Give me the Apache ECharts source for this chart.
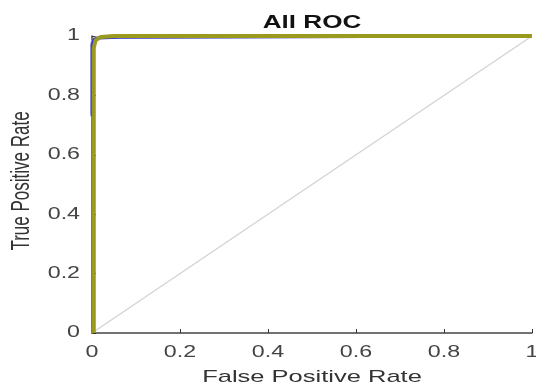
<!DOCTYPE html>
<html>
<head>
<meta charset="utf-8">
<script src="https://cdn.jsdelivr.net/npm/echarts@6/dist/echarts.min.js"></script>
<style>
  html, body { margin: 0; padding: 0; background: #fff; }
  #main { width: 536px; height: 385px; }
</style>
</head>
<body>
<div id="main"></div>
<script>
var chartDom = document.getElementById('main');
var myChart = echarts.init(chartDom);
var option;

// tick values and their labels
var xTicks = [0, 0.2, 0.4, 0.6, 0.8, 1];
var xTickLabels = ['0', '0.2', '0.4', '0.6', '0.8', '1'];
var yTicks = [0, 0.2, 0.4, 0.6, 0.8, 1];
var yTickLabels = ['0', '0.2', '0.4', '0.6', '0.8', '1'];

// curves (fpr, tpr)
var chanceLine = [[0, 0], [1, 1]];
var greyRoc = [[0, 0.74], [0, 0.98], [0.006, 0.993], [0.05, 0.996], [0.27, 0.997], [1, 1]];
var blueRoc = [[0, 0.73], [0, 0.97], [0.004, 0.988], [0.012, 0.993], [0.03, 0.994], [0.06, 0.996], [1, 1]];
var oliveRoc = [[0.004, 0], [0.004, 0.96], [0.008, 0.985], [0.02, 0.997], [0.05, 1], [1, 1]];

var FONT = 'Liberation Sans, Arial, sans-serif';
// the reference text looks stretched sideways
var STRETCH = 1.45;

option = {
  animation: false,
  grid: { left: 92, right: 4, top: 36, bottom: 52 },
  xAxis: {
    type: 'value',
    min: 0,
    max: 1,
    interval: 0.2,
    axisLine: { lineStyle: { color: '#444', width: 1.5 } },
    axisTick: { inside: true, length: 4, lineStyle: { color: '#333' } },
    axisLabel: { show: false },
    splitLine: { show: false }
  },
  yAxis: {
    type: 'value',
    min: 0,
    max: 1,
    interval: 0.2,
    axisLine: { show: true, lineStyle: { color: '#444', width: 1.5 } },
    axisTick: { show: true, inside: true, length: 4, lineStyle: { color: '#333' } },
    axisLabel: { show: false },
    splitLine: { show: false }
  },
  series: [
    {
      type: 'line',
      data: chanceLine,
      symbol: 'none',
      lineStyle: { color: '#d4d4d4', width: 1.5 }
    },
    {
      type: 'line',
      data: greyRoc,
      symbol: 'none',
      lineStyle: { color: '#b8b8b8', width: 3 }
    },
    {
      type: 'line',
      data: blueRoc,
      symbol: 'none',
      lineStyle: { color: '#3a3ad8', width: 3 }
    },
    {
      type: 'line',
      data: oliveRoc,
      symbol: 'none',
      lineStyle: { color: '#9a9a1e', width: 4 }
    }
  ]
};

myChart.setOption(option);

// texts drawn as graphic so they can be stretched like the reference
var texts = [];
texts.push({
  type: 'text', x: 312, y: 23, scaleX: STRETCH,
  style: { text: 'All ROC', font: 'bold 18px ' + FONT, fill: '#111', align: 'center', verticalAlign: 'middle' }
});
texts.push({
  type: 'text', x: 312, y: 377, scaleX: 1.5,
  style: { text: 'False Positive Rate', font: '17px ' + FONT, fill: '#333', align: 'center', verticalAlign: 'middle' }
});
texts.push({
  type: 'text', x: 22, y: 181, rotation: Math.PI / 2, scaleY: 1.5,
  style: { text: 'True Positive Rate', font: '17px ' + FONT, fill: '#333', align: 'center', verticalAlign: 'middle' }
});
var y0 = myChart.convertToPixel({ yAxisIndex: 0 }, 0);
xTicks.forEach(function (v, i) {
  texts.push({
    type: 'text', x: myChart.convertToPixel({ xAxisIndex: 0 }, v), y: y0 + 20, scaleX: STRETCH,
    style: { text: xTickLabels[i], font: '16px ' + FONT, fill: '#444', align: 'center', verticalAlign: 'middle' }
  });
});
var x0 = myChart.convertToPixel({ xAxisIndex: 0 }, 0);
yTicks.forEach(function (v, i) {
  texts.push({
    type: 'text', x: x0 - 12, y: myChart.convertToPixel({ yAxisIndex: 0 }, v), scaleX: STRETCH,
    style: { text: yTickLabels[i], font: '16px ' + FONT, fill: '#444', align: 'right', verticalAlign: 'middle' }
  });
});
myChart.setOption({ graphic: texts });
</script>
</body>
</html>
